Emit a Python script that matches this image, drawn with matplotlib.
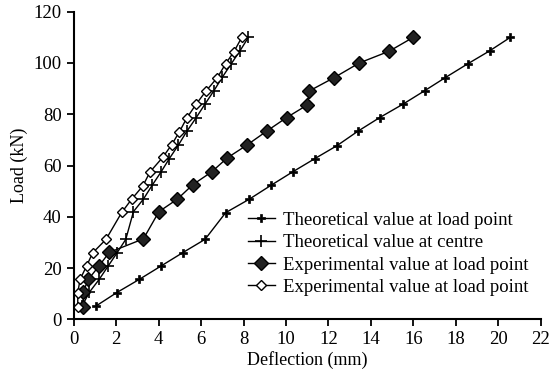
import matplotlib
matplotlib.use("Agg")
import matplotlib.pyplot as plt

plt.rcParams['font.family'] = ['Liberation Serif', 'DejaVu Serif']

# Theoretical value at load point
theo_load_x = [1.06, 2.03, 3.10, 4.12, 5.14, 6.19, 7.16, 8.26, 9.30, 10.31, 11.36,
               12.41, 13.37, 14.41, 15.52, 16.53, 17.50, 18.56, 19.58, 20.56]
theo_load_y = [5.2, 10.4, 15.6, 20.8, 26.0, 31.2, 41.6, 46.8, 52.3, 57.5, 62.7,
               67.8, 73.3, 78.7, 84.0, 89.2, 94.3, 99.7, 104.7, 110.0]

# Theoretical value at centre
theo_cen_x = [0.40, 0.75, 1.21, 1.64, 2.03, 2.46, 2.82, 3.29, 3.71, 4.12, 4.51,
              4.93, 5.33, 5.76, 6.19, 6.61, 7.00, 7.40, 7.84, 8.23]
theo_cen_y = [5.2, 10.6, 15.6, 20.9, 25.7, 31.2, 42.0, 46.9, 52.4, 57.5, 62.7,
              67.9, 73.3, 78.5, 84.0, 89.2, 94.4, 99.4, 104.8, 110.0]

# Experimental value at load point (filled diamonds)
exp_load_x = [0.46, 0.46, 0.70, 1.21, 1.68, 3.29, 4.02, 4.89, 5.61, 6.50, 7.24,
              8.15, 9.09, 10.03, 11.00, 11.10, 12.27, 13.45, 14.86, 15.99]
exp_load_y = [4.9, 10.8, 15.6, 20.9, 26.1, 31.4, 42.0, 46.9, 52.5, 57.5, 63.0,
              67.9, 73.4, 78.7, 83.6, 89.1, 94.3, 100.0, 104.6, 110.0]

# Experimental value at load point (open diamonds)
exp_open_x = [0.20, 0.20, 0.31, 0.62, 0.90, 1.53, 2.27, 2.74, 3.26, 3.60, 4.20,
              4.62, 4.98, 5.33, 5.76, 6.24, 6.77, 7.16, 7.55, 7.92]
exp_open_y = [4.7, 10.4, 15.6, 20.9, 25.9, 31.2, 41.7, 46.9, 52.0, 57.5, 63.2,
              68.1, 73.1, 78.5, 83.8, 89.1, 94.3, 99.7, 104.4, 110.0]

fig = plt.figure(figsize=(5.54, 3.77), dpi=100)
ax = fig.add_axes([0.1327, 0.153, 0.8438, 0.816])

ax.plot(theo_load_x, theo_load_y, '-', color='black', lw=1.0, marker='P',
        markersize=6, markerfacecolor='black', markeredgecolor='black',
        markeredgewidth=0.5, label='Theoretical value at load point')
ax.plot(theo_cen_x, theo_cen_y, '-', color='black', lw=1.0, marker='+',
        markersize=9, markeredgewidth=1.2, label='Theoretical value at centre')
ax.plot(exp_load_x, exp_load_y, '-', color='black', lw=1.0, marker='D',
        markersize=7.5, markerfacecolor='#222222', markeredgecolor='black',
        markeredgewidth=1.0, label='Experimental value at load point')
ax.plot(exp_open_x, exp_open_y, '-', color='black', lw=1.0, marker='D',
        markersize=5, markerfacecolor='white', markeredgecolor='black',
        markeredgewidth=1.0, label='Experimental value at load point')

ax.set_xlim(0, 22)
ax.set_ylim(0, 120)
ax.set_xticks(range(0, 23, 2))
ax.set_yticks(range(0, 121, 20))
ax.spines['top'].set_visible(False)
ax.spines['right'].set_visible(False)
for s in ('left', 'bottom'):
    ax.spines[s].set_linewidth(1.5)
ax.tick_params(direction='out', length=5, width=1.3, labelsize=13.5)
ax.set_xlabel('Deflection (mm)', fontsize=13, labelpad=2)
ax.set_ylabel('Load (kN)', fontsize=13, labelpad=4)

ax.legend(loc='upper left', bbox_to_anchor=(0.373, 0.35), frameon=False,
          fontsize=13.5, handlelength=1.45, handletextpad=0.4,
          labelspacing=0.28, borderpad=0, borderaxespad=0)

fig.savefig('out.png', dpi=100)
